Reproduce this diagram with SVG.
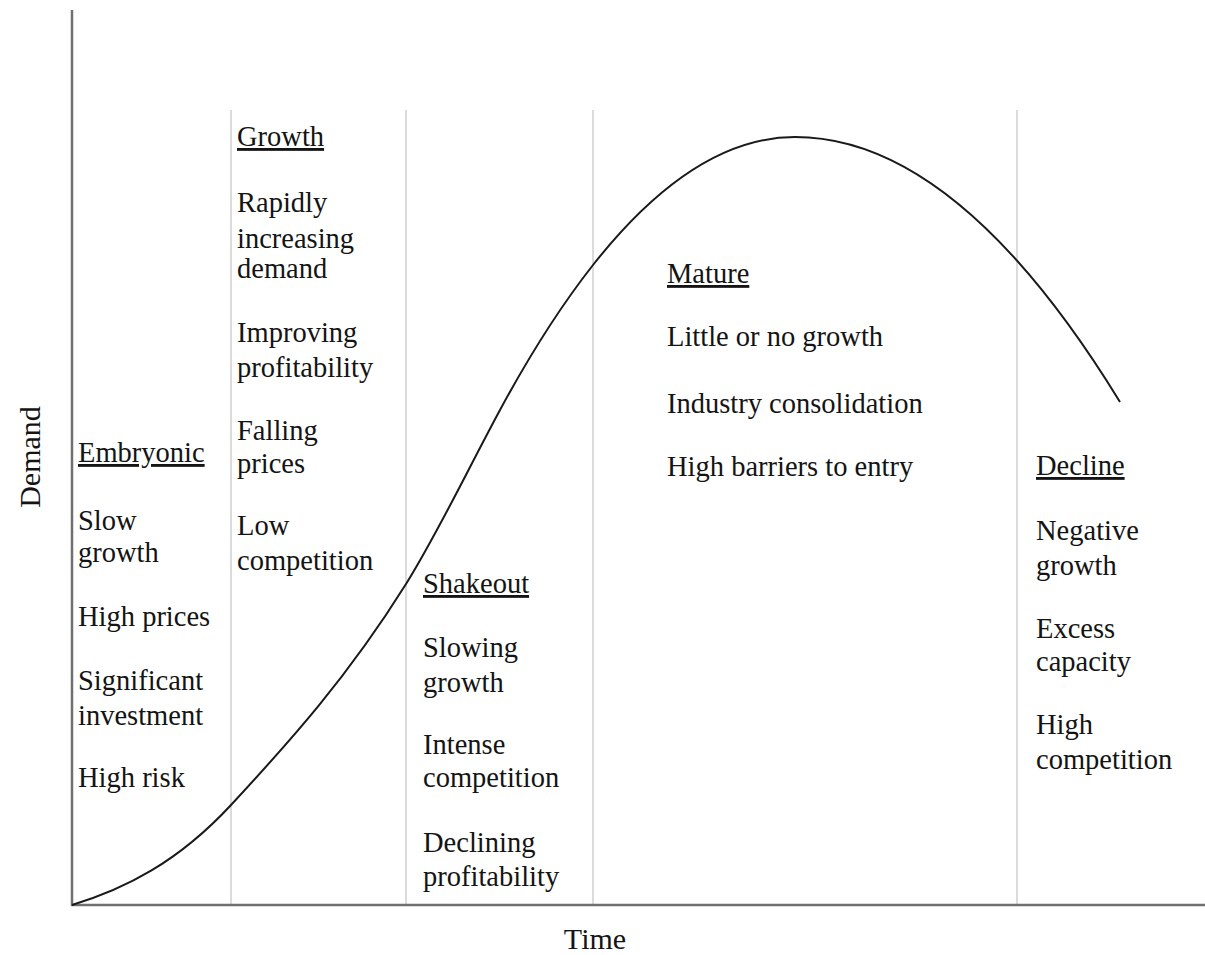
<svg xmlns="http://www.w3.org/2000/svg" width="1205" height="955" viewBox="0 0 1205 955">
<style>
text{font-family:"Liberation Serif","Times New Roman",serif;fill:#141414;font-size:28.5px}
.ttl{text-decoration:underline}
.ax{font-size:30px}
.axis{stroke:#707070;stroke-width:2.5;fill:none}
.div{stroke:#cfcfcf;stroke-width:1.5;fill:none}
.curve{stroke:#1a1a1a;stroke-width:2;fill:none}
</style>
<rect width="1205" height="955" fill="#fff"/>
<g id="dividers">
<line class="div" x1="231" y1="110" x2="231" y2="905"/>
<line class="div" x1="406" y1="110" x2="406" y2="905"/>
<line class="div" x1="593" y1="110" x2="593" y2="905"/>
<line class="div" x1="1017" y1="110" x2="1017" y2="905"/>
</g>
<g id="axes">
<line class="axis" x1="72" y1="10" x2="72" y2="906"/>
<line class="axis" x1="71" y1="905" x2="1205" y2="905"/>
<text class="ax" x="595" y="949" text-anchor="middle">Time</text>
<text class="ax" transform="translate(40,457) rotate(-90)" text-anchor="middle">Demand</text>
</g>
<g id="connectors">
<path class="curve" d="M72,905 C125,889 178,862.2 231,805 C289.3,742 347.7,677.3 406,584 C437.3,533.9 468.7,467.9 500,410 C531,352.6 562,304.4 593,265 Q694,137 795,137 Q957.5,137 1120,402"/>
</g>
<g id="embryonic">
<text class="ttl" x="78" y="462">Embryonic</text>
<text x="78" y="530">Slow</text>
<text x="78" y="562">growth</text>
<text x="78" y="626">High prices</text>
<text x="78" y="690">Significant</text>
<text x="78" y="725">investment</text>
<text x="78" y="787">High risk</text>
</g>
<g id="growth">
<text class="ttl" x="237" y="146">Growth</text>
<text x="237" y="212">Rapidly</text>
<text x="237" y="248">increasing</text>
<text x="237" y="278">demand</text>
<text x="237" y="342">Improving</text>
<text x="237" y="377">profitability</text>
<text x="237" y="440">Falling</text>
<text x="237" y="473">prices</text>
<text x="237" y="535">Low</text>
<text x="237" y="570">competition</text>
</g>
<g id="shakeout">
<text class="ttl" x="423" y="593">Shakeout</text>
<text x="423" y="657">Slowing</text>
<text x="423" y="692">growth</text>
<text x="423" y="754">Intense</text>
<text x="423" y="787">competition</text>
<text x="423" y="852">Declining</text>
<text x="423" y="886">profitability</text>
</g>
<g id="mature">
<text class="ttl" x="667" y="283">Mature</text>
<text x="667" y="346">Little or no growth</text>
<text x="667" y="413">Industry consolidation</text>
<text x="667" y="476">High barriers to entry</text>
</g>
<g id="decline">
<text class="ttl" x="1036" y="475">Decline</text>
<text x="1036" y="540">Negative</text>
<text x="1036" y="575">growth</text>
<text x="1036" y="638">Excess</text>
<text x="1036" y="671">capacity</text>
<text x="1036" y="734">High</text>
<text x="1036" y="769">competition</text>
</g>
</svg>
